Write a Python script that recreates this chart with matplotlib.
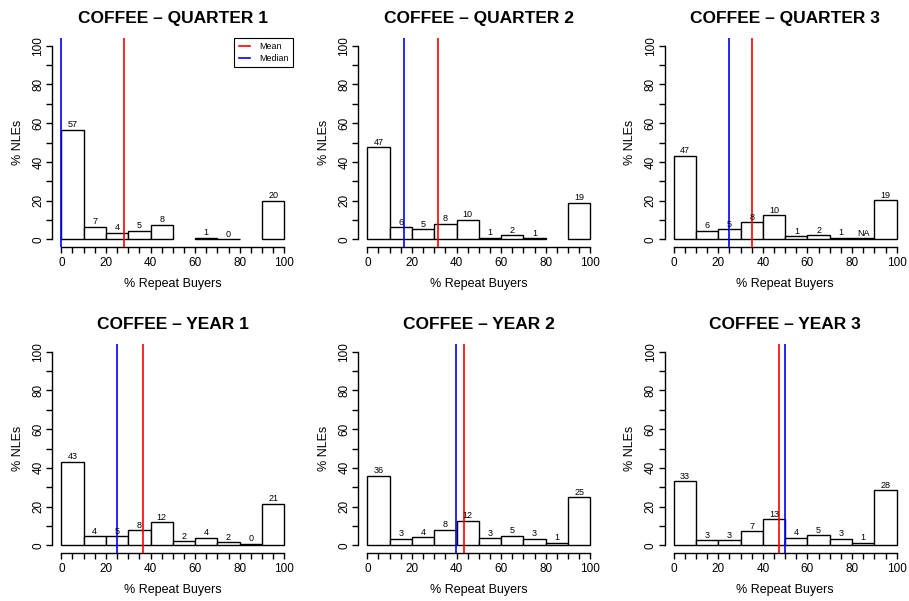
import numpy as np
import matplotlib
matplotlib.use("Agg")
from matplotlib import pyplot as plt
from matplotlib.ticker import MultipleLocator

plt.rcParams['font.family'] = ['Liberation Sans', 'DejaVu Sans']

edges = np.arange(0, 101, 10)
titles = ['COFFEE \u2013 QUARTER 1', 'COFFEE \u2013 QUARTER 2', 'COFFEE \u2013 QUARTER 3',
          'COFFEE \u2013 YEAR 1', 'COFFEE \u2013 YEAR 2', 'COFFEE \u2013 YEAR 3']

nan = np.nan
q1 = [56.6, 6.5, 3.4, 4.6, 7.6, nan, 0.9, 0.2, nan, 20.0]
q2 = [47.5, 6.2, 5.2, 8.1, 10.3, 1.0, 2.1, 0.5, nan, 18.9]
q3 = [43.2, 4.6, 5.2, 8.9, 12.4, 1.7, 2.2, 1.0, 0.5, 20.3]
y1 = [43.1, 4.6, 4.8, 7.7, 11.9, 2.2, 3.8, 1.7, 0.7, 21.5]
y2 = [35.9, 3.3, 4.3, 8.1, 12.7, 3.6, 5.0, 3.3, 1.4, 24.9]
y3 = [33.0, 2.7, 2.7, 7.4, 13.6, 4.0, 5.3, 3.3, 1.4, 28.4]

q1_lab = ['57', '7', '4', '5', '8', '', '1', '0', '', '20']
q2_lab = ['47', '6', '5', '8', '10', '1', '2', '1', '', '19']
q3_lab = ['47', '6', '5', '8', '10', '1', '2', '1', 'NA', '19']
y1_lab = ['43', '4', '5', '8', '12', '2', '4', '2', '0', '21']
y2_lab = ['36', '3', '4', '8', '12', '3', '5', '3', '1', '25']
y3_lab = ['33', '3', '3', '7', '13', '4', '5', '3', '1', '28']

means = [28.3, 31.5, 35.3, 36.5, 43.5, 47.2]
medians = [0.0, 16.6, 24.9, 25.0, 39.9, 50.0]

heights = [q1, q2, q3, y1, y2, y3]
labels = [q1_lab, q2_lab, q3_lab, y1_lab, y2_lab, y3_lab]

W, H = 909, 601
fig = plt.figure(figsize=(W / 100, H / 100), dpi=100)

lefts = [52.4, 358.4, 664.8]
tops = [38.0, 343.9]
aw, ah = 240.8, 209.2

for i in range(6):
    r, c = divmod(i, 3)
    ax = fig.add_axes([lefts[c] / W, (H - tops[r] - ah) / H, aw / W, ah / H])
    h = heights[i]
    for k in range(10):
        if np.isnan(h[k]):
            continue
        ax.bar(edges[k], h[k], width=10, align='edge', facecolor='white',
               edgecolor='black', linewidth=1.0, zorder=2)
        if labels[i][k]:
            ax.annotate(labels[i][k], (edges[k] + 5, h[k]), xytext=(0, 1.8),
                        textcoords='offset points', ha='center', va='baseline',
                        fontsize=6.5, zorder=4)
    ax.axvline(means[i], color='red', lw=1.2, zorder=3, label='Mean')
    ax.axvline(medians[i], color='blue', lw=1.2, zorder=3, label='Median')

    ax.set_xlim(-4, 104)
    ax.set_ylim(-4, 104)
    for s in ['top', 'right']:
        ax.spines[s].set_visible(False)
    ax.spines['left'].set_bounds(0, 100)
    ax.spines['bottom'].set_bounds(0, 100)
    ax.spines['left'].set_linewidth(1.0)
    ax.spines['bottom'].set_linewidth(1.0)
    ax.xaxis.set_major_locator(MultipleLocator(20))
    ax.xaxis.set_minor_locator(MultipleLocator(5))
    ax.yaxis.set_major_locator(MultipleLocator(20))
    ax.yaxis.set_minor_locator(MultipleLocator(10))
    ax.tick_params(which='both', direction='out', length=4.3, width=1.0,
                   labelsize=8.5)
    ax.tick_params(axis='x', pad=2.5)
    ax.tick_params(axis='y', pad=1.5, labelrotation=90)
    for t in ax.get_yticklabels():
        t.set_va('center')
    ax.set_xlabel('% Repeat Buyers', fontsize=9, labelpad=6.5)
    ax.set_ylabel('% NLEs', fontsize=9, labelpad=6)
    ax.set_title(titles[i], fontsize=12.5, fontweight='bold',
                 pad=11 if r == 0 else 10.5)

    if i == 0:
        leg = ax.legend(loc='upper right', borderaxespad=0, fontsize=6.4,
                        fancybox=False, edgecolor='black', framealpha=1,
                        handlelength=1.3, borderpad=0.5, labelspacing=0.25,
                        handletextpad=1.0)
        leg.get_frame().set_linewidth(0.8)

fig.savefig('out.png', dpi=100)
